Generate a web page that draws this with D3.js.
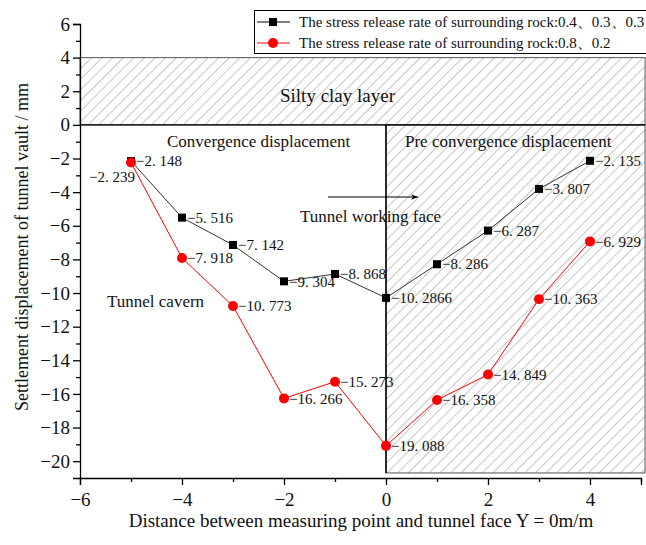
<!DOCTYPE html>
<html>
<head>
<meta charset="utf-8">
<script src="https://cdn.jsdelivr.net/npm/d3@7"></script>
<style>
  body { margin: 0; background: #fff; }
  svg text { font-family: "Liberation Serif", "Times New Roman", "DejaVu Serif", serif; fill: #111; }
</style>
</head>
<body>
<div id="chart"></div>
<script>
// measuring points (m) and settlement values (mm)
var distances = [-5, -4, -3, -2, -1, 0, 1, 2, 3, 4];
var blackValues = [-2.148, -5.516, -7.142, -9.304, -8.868, -10.2866, -8.286, -6.287, -3.807, -2.135];
var redValues = [-2.239, -7.918, -10.773, -16.266, -15.273, -19.088, -16.358, -14.849, -10.363, -6.929];
var xTicks = [-6, -4, -2, 0, 2, 4];
var yTicks = [-20, -18, -16, -14, -12, -10, -8, -6, -4, -2, 0, 2, 4, 6];
var seriesNames = [
  "The stress release rate of surrounding rock:0.4、0.3、0.3",
  "The stress release rate of surrounding rock:0.8、0.2"
];

var serif = '"Liberation Serif", "Times New Roman", "DejaVu Serif", serif';
var width = 646, height = 545;
var x = d3.scaleLinear().domain([-6, 5]).range([80, 641]);
var y = d3.scaleLinear().domain([-21, 6]).range([478, 24]);

var svg = d3.select("#chart").append("svg")
    .attr("width", width)
    .attr("height", height);

var defs = svg.append("defs");
defs.append("pattern")
    .attr("id", "hatch")
    .attr("patternUnits", "userSpaceOnUse")
    .attr("width", 7.5)
    .attr("height", 7.5)
    .attr("patternTransform", "rotate(45)")
    .append("line")
    .attr("x1", 0).attr("y1", 0)
    .attr("x2", 0).attr("y2", 7.5)
    .attr("stroke", "#a0a0a0")
    .attr("stroke-width", 1.2);

// silty clay band (0..4) and the zone ahead of the face
var bandRight = 5.08, zoneBottom = -20.7;
svg.append("rect")
    .attr("x", x(-6)).attr("y", y(4))
    .attr("width", x(bandRight) - x(-6))
    .attr("height", y(0) - y(4))
    .attr("fill", "url(#hatch)")
    .attr("stroke", "#555")
    .attr("stroke-width", 1);

svg.append("rect")
    .attr("x", x(0)).attr("y", y(0))
    .attr("width", x(bandRight) - x(0))
    .attr("height", y(zoneBottom) - y(0))
    .attr("fill", "url(#hatch)")
    .attr("stroke", "#555")
    .attr("stroke-width", 1);

svg.append("line")
    .attr("x1", x(-6)).attr("x2", x(bandRight))
    .attr("y1", y(0)).attr("y2", y(0))
    .attr("stroke", "#000").attr("stroke-width", 1.2);

svg.append("line")
    .attr("x1", x(0)).attr("x2", x(0))
    .attr("y1", y(0)).attr("y2", y(zoneBottom))
    .attr("stroke", "#000").attr("stroke-width", 1.5);

// axes
svg.append("g")
    .attr("transform", "translate(" + x(-6) + ",0)")
    .call(d3.axisLeft(y).tickValues(yTicks).tickSize(7).tickPadding(3));
svg.append("g")
    .attr("transform", "translate(" + x(-6) + ",0)")
    .call(d3.axisLeft(y).tickValues(d3.range(-19, 6, 2)).tickSize(4).tickFormat(""))
    .select(".domain").remove();

svg.append("g")
    .attr("transform", "translate(0," + y(-21) + ")")
    .call(d3.axisBottom(x).tickValues(xTicks).tickSize(7).tickPadding(8));
svg.append("g")
    .attr("transform", "translate(0," + y(-21) + ")")
    .call(d3.axisBottom(x).tickValues(d3.range(-5, 6, 2)).tickSize(4).tickFormat(""))
    .select(".domain").remove();

svg.selectAll(".tick text")
    .style("font-family", serif)
    .style("font-size", "19px")
    .attr("fill", "#111");
svg.selectAll(".domain, .tick line").attr("stroke", "#000").attr("stroke-width", 1.3);

// axis titles
svg.append("text")
    .attr("x", 361).attr("y", 527)
    .attr("text-anchor", "middle")
    .style("font-family", serif)
    .style("font-size", "19px")
    .text("Distance between measuring point and tunnel face Y = 0m/m");

svg.append("text")
    .attr("transform", "translate(28,247) rotate(-90)")
    .attr("text-anchor", "middle")
    .style("font-family", serif)
    .style("font-size", "18px")
    .text("Settlement displacement of tunnel vault / mm");

// area notes
function note(t, tx, ty, size) {
  svg.append("text").attr("x", tx).attr("y", ty)
      .style("font-family", serif)
      .style("font-size", size + "px").text(t);
}
note("Silty clay layer", 280, 102, 19);
note("Convergence displacement", 167, 147, 17);
note("Pre convergence displacement", 405, 147, 17);
note("Tunnel working face", 300, 222, 17);
note("Tunnel cavern", 107, 307, 17);

// arrow toward the face
defs.append("marker")
    .attr("id", "arrow")
    .attr("viewBox", "0 0 10 10")
    .attr("refX", 10).attr("refY", 5)
    .attr("markerWidth", 12).attr("markerHeight", 7)
    .attr("markerUnits", "userSpaceOnUse")
    .attr("orient", "auto")
    .append("path")
    .attr("d", "M0,1 L10,5 L0,9 L3,5 Z")
    .attr("fill", "#000");
svg.append("line")
    .attr("x1", 328).attr("x2", 418)
    .attr("y1", 197).attr("y2", 197)
    .attr("stroke", "#000").attr("stroke-width", 1)
    .attr("marker-end", "url(#arrow)");

// series
var line = d3.line().x(function(d) { return x(d[0]); }).y(function(d) { return y(d[1]); });
var blackData = d3.zip(distances, blackValues);
var redData = d3.zip(distances, redValues);

function fmt(v) {
  return String(v).replace("-", "\u2212").replace(".", ". ");
}

svg.append("path").datum(blackData)
    .attr("d", line).attr("fill", "none")
    .attr("stroke", "#333").attr("stroke-width", 1);
svg.selectAll(".sq").data(blackData).enter().append("rect")
    .attr("class", "sq")
    .attr("x", function(d) { return x(d[0]) - 4; })
    .attr("y", function(d) { return y(d[1]) - 4; })
    .attr("width", 8).attr("height", 8)
    .attr("fill", "#000");

svg.append("path").datum(redData)
    .attr("d", line).attr("fill", "none")
    .attr("stroke", "#f00").attr("stroke-width", 1);
svg.selectAll(".dot").data(redData).enter().append("circle")
    .attr("class", "dot")
    .attr("cx", function(d) { return x(d[0]); })
    .attr("cy", function(d) { return y(d[1]); })
    .attr("r", 5)
    .attr("fill", "#f00");

svg.selectAll(".blab").data(blackData).enter().append("text")
    .attr("x", function(d) { return x(d[0]) + 5; })
    .attr("y", function(d) { return y(d[1]); })
    .attr("dy", "0.35em")
    .style("font-family", serif)
    .style("font-size", "15px")
    .text(function(d) { return fmt(d[1]); });

svg.selectAll(".rlab").data(redData).enter().append("text")
    .attr("x", function(d, i) { return i === 0 ? x(d[0]) + 4 : x(d[0]) + 5; })
    .attr("y", function(d, i) { return i === 0 ? y(d[1]) + 14 : y(d[1]); })
    .attr("dy", "0.35em")
    .attr("text-anchor", function(d, i) { return i === 0 ? "end" : "start"; })
    .style("font-family", serif)
    .style("font-size", "15px")
    .text(function(d) { return fmt(d[1]); });

// legend
var legend = svg.append("g");
legend.append("rect")
    .attr("x", 254.5).attr("y", 10.5)
    .attr("width", 400).attr("height", 43)
    .attr("fill", "#fff").attr("stroke", "#000").attr("stroke-width", 1);
var legendColors = ["#000", "#f00"];
seriesNames.forEach(function(name, i) {
  var ly = 22 + i * 21;
  legend.append("line")
      .attr("x1", 257).attr("x2", 290).attr("y1", ly).attr("y2", ly)
      .attr("stroke", legendColors[i]).attr("stroke-width", 1);
  if (i === 0) {
    legend.append("rect").attr("x", 269).attr("y", ly - 4)
        .attr("width", 8).attr("height", 8).attr("fill", "#000");
  } else {
    legend.append("circle").attr("cx", 273).attr("cy", ly)
        .attr("r", 5).attr("fill", "#f00");
  }
  legend.append("text")
      .attr("x", 299).attr("y", ly)
      .attr("dy", "0.35em")
      .style("font-family", serif)
      .style("font-size", "15px")
      .text(name);
});
</script>
</body>
</html>
